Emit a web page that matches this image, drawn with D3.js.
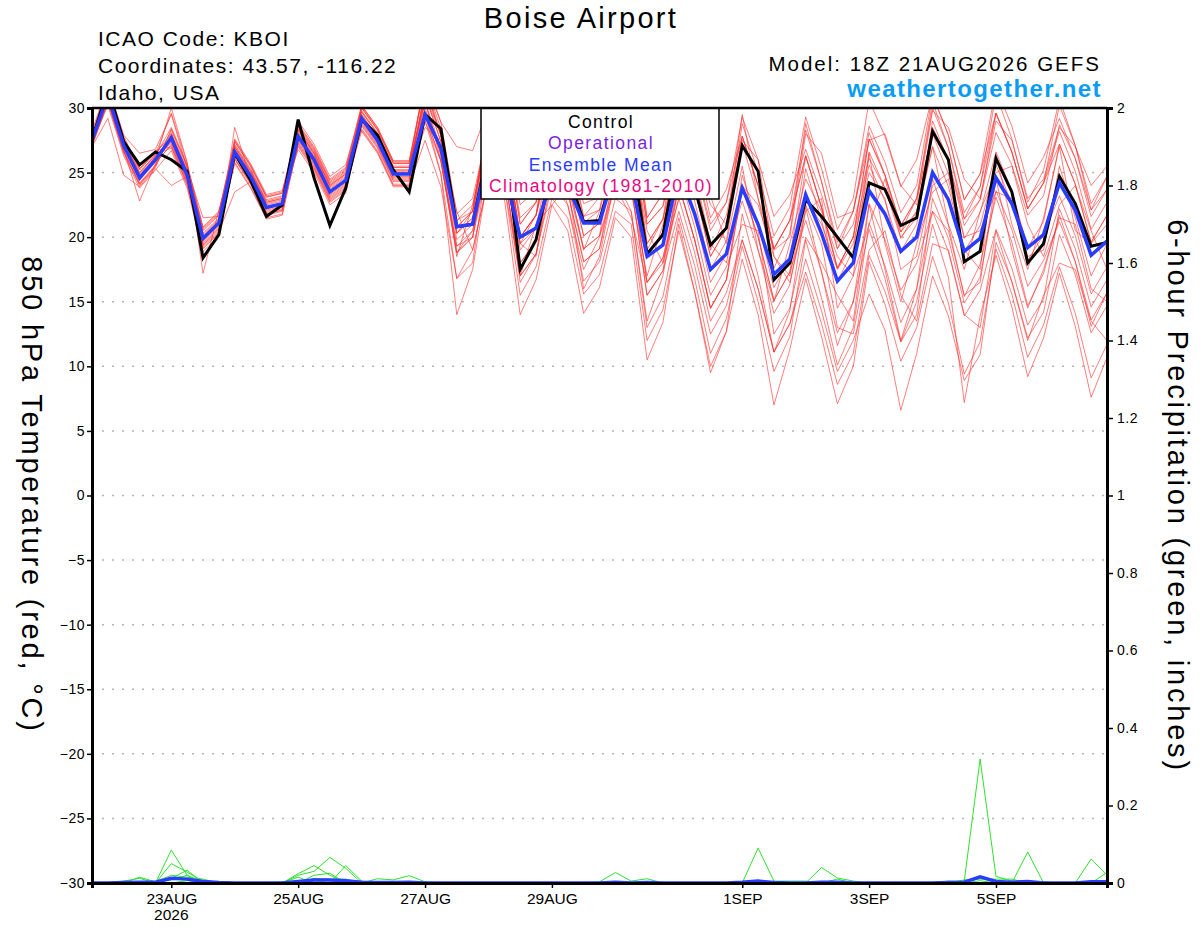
<!DOCTYPE html>
<html>
<head>
<meta charset="utf-8">
<title>Boise Airport</title>
<script src="https://cdnjs.cloudflare.com/ajax/libs/d3/7.8.5/d3.min.js"></script>
<style>
  body { margin: 0; background: #fff; }
  svg { display: block; font-family: "Liberation Sans", Arial, Helvetica, sans-serif; }
</style>
</head>
<body>
<div id="chart"></div>
<script>

// 6-hourly steps from 18Z 21AUG2026, 65 points (16 days)
var startTime = Date.UTC(2026, 7, 21, 18),
    stepHours = 6;

var controlTemp = [27.5, 31.5,27.4,25.6,26.6, 26.0,25.1,18.4,20.2, 26.5,24.4,21.6,22.5, 29.1,24.6,20.9,23.8, 29.1,27.9,25.2,23.5, 29.5,28.4,20.8,21.0, 27.0,27.5,17.5,19.8, 25.5,25.0,21.2,21.3, 25.5,26.5,18.7,20.2, 26.6,23.8,19.4,20.7, 27.1,25.1,16.7,18.0, 22.9,21.6,20.0,18.4, 24.2,23.7,20.9,21.5, 28.2,26.0,18.1,18.9, 26.1,23.5,18.0,19.5, 24.7,22.6,19.3,19.6];

var meanTemp = [27.5, 31.0,27.1,24.6,26.0, 27.7,24.8,19.9,21.1, 26.6,24.7,22.3,22.6, 27.8,26.0,23.5,24.4, 29.2,27.5,24.9,24.9, 29.5,26.9,20.8,21.0, 26.5,25.0,20.0,20.7, 24.5,24.0,21.1,21.1, 25.3,24.4,18.5,19.4, 25.1,21.8,17.5,18.7, 23.8,21.0,17.1,18.3, 23.3,20.3,16.6,18.0, 23.6,21.8,18.9,20.0, 25.0,22.9,18.9,19.9, 24.6,22.6,19.2,20.2, 24.2,22.1,18.6,19.7];

var memberTemp = [
  [27.8, 31.5,27.6,25.3,26.5, 28.0,25.1,20.2,21.4, 27.1,25.2,22.8,23.1, 28.6,26.8,24.3,25.2, 29.7,28.0,25.4,25.4, 31.0,27.9,21.3,22.0, 29.0,29.0,21.5,22.7, 28.0,27.5,22.6,23.1, 29.0,29.0,21.0,22.4, 27.0,26.5,22.5,21.0, 29.5,23.0,19.0,20.0, 28.0,26.5,21.5,22.0, 27.5,28.0,24.0,22.5, 29.8,28.5,24.5,23.0, 29.0,27.5,23.0,24.5, 28.5,27.0,24.0,25.5],
  [27.2, 30.7,26.8,22.8,25.7, 27.2,24.3,19.4,20.6, 25.8,23.9,21.5,21.8, 27.3,25.5,23.0,23.9, 28.2,26.5,23.9,23.9, 29.0,24.9,14.0,17.5, 25.0,24.0,15.5,17.7, 23.0,21.5,15.6,17.1, 22.0,21.0,12.0,14.4, 20.5,15.8,10.0,12.7, 18.3,14.0,7.0,11.3, 16.8,12.3,7.1,10.0, 18.1,14.8,10.4,13.0, 18.5,14.9,9.4,11.9, 19.1,15.6,10.7,13.2, 17.7,14.1,9.1,11.7],
  [27.9, 30.8,27.5,24.4,26.3, 28.5,25.6,20.7,21.9, 27.6,25.7,23.3,23.6, 28.3,26.5,24.0,24.9, 29.5,27.8,25.2,25.2, 32.5,28.9,21.8,23.0, 28.5,28.0,20.0,21.7, 26.5,25.5,20.1,21.1, 27.5,27.0,18.5,20.4, 28.0,23.8,18.5,20.7, 27.8,24.0,19.1,21.3, 26.3,22.3,17.6,20.0, 27.6,24.8,20.9,23.0, 30.0,26.9,21.9,23.9, 29.6,26.6,22.2,24.2, 28.2,25.1,20.6,22.7],
  [27.0, 30.5,26.6,24.1,25.5, 27.9,25.0,20.1,21.3, 26.3,24.4,22.0,22.3, 27.0,25.2,22.7,23.6, 29.7,28.0,25.4,25.4, 29.5,25.9,18.8,20.0, 25.5,25.0,17.0,18.7, 25.5,24.5,19.1,20.1, 24.5,24.0,15.5,17.4, 22.0,17.8,12.5,14.7, 19.8,16.0,11.1,13.3, 18.3,14.3,9.6,12.0, 15.6,12.8,6.6,11.0, 17.0,13.9,8.9,10.9, 19.6,16.6,12.2,14.2, 20.2,17.1,12.6,14.7],
  [28.2, 31.8,27.9,26.5,26.8, 29.5,25.3,21.5,21.6, 27.2,25.3,22.9,23.2, 28.8,27.0,24.5,25.4, 30.2,28.5,25.9,25.9, 32.0,27.9,20.3,22.0, 29.0,28.0,19.5,21.7, 29.0,27.5,21.6,23.1, 29.0,28.0,19.0,21.4, 29.5,24.8,19.0,21.7, 27.3,23.0,17.6,20.3, 28.8,24.3,19.1,22.0, 28.1,24.8,20.4,23.0, 30.5,26.9,21.4,23.9, 31.1,27.6,22.7,25.2, 30.7,27.1,22.1,24.7],
  [27.3, 30.2,26.3,23.8,25.2, 26.7,23.8,18.9,20.1, 26.1,24.2,21.8,22.1, 28.1,26.3,23.8,24.7, 28.7,27.0,24.4,24.4, 29.0,25.9,19.3,20.0, 27.0,27.0,19.5,20.7, 27.0,26.5,21.6,22.1, 24.0,27.5,20.5,18.0, 23.0,23.5,23.2,19.5, 25.5,19.0,15.0,19.5, 24.5,22.0,18.5,17.0, 21.0,24.5,20.0,21.5, 27.0,21.0,17.5,22.0, 25.0,25.5,21.0,18.5, 22.5,24.0,20.5,17.5],
  [27.6, 31.3,27.4,24.9,26.3, 27.5,24.6,19.7,20.9, 27.4,25.5,23.1,23.4, 28.0,26.2,23.7,24.6, 30.0,28.3,25.7,25.7, 30.5,26.0,18.5,22.5, 28.5,24.0,17.0,21.0, 22.5,24.0,16.0,18.5, 24.5,22.0,13.5,17.0, 24.0,19.8,14.5,16.7, 23.8,20.0,15.1,17.3, 25.3,21.3,16.6,19.0, 26.6,23.8,19.9,22.0, 27.0,23.9,18.9,20.9, 25.6,22.6,18.2,20.2, 23.2,20.1,15.6,17.7],
  [27.5, 31.0,27.1,24.6,26.0, 30.0,25.8,17.2,22.1, 26.1,24.2,21.8,22.1, 28.5,26.7,24.2,25.1, 28.9,27.2,24.6,24.6, 29.5,24.9,16.8,19.0, 24.5,23.0,14.0,16.7, 22.5,20.5,14.1,16.1, 21.5,20.0,10.5,13.4, 21.0,15.8,9.5,12.7, 21.8,17.0,11.1,14.3, 22.3,17.3,11.6,15.0, 20.6,16.8,11.9,15.0, 21.0,16.9,7.2,13.9, 18.6,14.6,9.2,12.2, 17.2,13.1,7.6,10.7],
  [27.3, 30.8,26.9,24.4,25.8, 27.1,24.2,19.3,20.5, 26.9,25.0,22.6,22.9, 27.5,25.7,23.2,24.1, 29.4,27.7,25.1,25.1, 31.5,27.9,20.8,22.0, 29.5,29.0,21.0,22.7, 29.5,28.5,23.1,24.1, 28.5,28.0,19.5,21.4, 27.0,22.8,17.5,19.7, 27.5,26.0,18.5,16.5, 22.0,23.0,14.5,17.0, 26.5,19.5,15.0,19.5, 23.5,24.5,19.0,17.5, 26.5,21.0,17.5,21.5, 27.0,20.5,19.5,21.0],
  [27.9, 31.6,27.7,25.2,26.6, 27.7,24.8,19.9,21.1, 26.8,24.9,22.5,22.8, 27.2,25.4,22.9,23.8, 30.0,28.3,25.7,25.7, 32.0,28.4,21.3,22.5, 27.5,27.0,19.0,20.7, 25.5,24.5,19.1,20.1, 27.5,27.0,18.5,20.4, 28.0,23.8,18.5,20.7, 28.8,25.0,20.1,22.3, 29.3,25.3,20.6,23.0, 30.6,27.8,23.9,26.0, 31.0,27.9,22.9,24.9, 29.6,26.6,22.2,24.2, 30.2,27.1,22.6,24.7],
  [27.1, 30.5,26.6,24.1,25.5, 28.4,25.5,20.6,21.8, 27.4,25.5,23.1,23.4, 28.2,26.4,23.9,24.8, 28.4,26.7,24.1,24.1, 29.5,25.9,18.8,20.0, 26.5,26.0,18.0,19.7, 26.5,25.5,20.1,21.1, 25.5,25.0,16.5,18.4, 23.0,18.8,13.5,15.7, 19.8,16.0,11.1,13.3, 17.3,13.3,8.6,11.0, 18.6,15.8,11.9,14.0, 23.0,19.9,14.9,16.9, 23.6,20.6,16.2,18.2, 21.2,18.1,13.6,15.7],
  [27.7, 31.4,27.5,25.0,26.4, 26.9,24.0,19.1,20.3, 28.5,24.5,22.1,22.4, 29.0,27.2,24.7,25.6, 29.8,28.1,25.5,25.5, 30.5,26.9,19.8,21.0, 28.5,28.0,20.0,21.7, 27.5,26.5,21.1,22.1, 28.5,28.0,19.5,21.4, 26.0,21.8,16.5,18.7, 22.8,19.0,14.1,16.3, 22.5,19.5,13.0,12.5, 19.0,20.5,15.5,13.5, 19.5,19.0,14.0,13.0, 20.5,16.5,12.0,15.5, 18.0,17.5,13.5,12.0],
  [27.2, 30.4,26.5,24.0,25.4, 28.1,25.2,20.3,21.5, 26.0,24.1,21.7,22.0, 27.8,26.0,23.5,24.4, 29.5,27.8,25.2,25.2, 31.0,27.4,20.3,21.5, 29.5,29.0,21.0,22.7, 30.5,29.5,24.1,25.1, 30.5,30.0,21.5,23.4, 30.0,25.8,20.5,22.7, 27.8,24.0,19.1,21.3, 26.3,22.3,17.6,20.0, 27.6,24.8,20.9,23.0, 28.0,24.9,19.9,21.9, 26.6,23.6,19.2,21.2, 27.2,24.1,19.6,21.7],
  [27.6, 31.2,27.3,24.8,26.2, 27.4,24.5,19.6,20.8, 27.0,25.1,22.7,23.0, 26.8,25.0,22.5,23.4, 29.0,27.3,24.7,24.7, 28.5,27.5,22.0,19.0, 24.5,27.5,19.5,18.5, 26.0,22.5,17.5,20.0, 24.0,21.5,16.5,18.0, 24.0,19.8,14.5,16.7, 24.8,21.0,16.1,18.3, 26.3,22.3,17.6,20.0, 25.6,22.8,18.9,21.0, 29.0,25.9,20.9,22.9, 29.6,26.6,22.2,24.2, 27.2,24.1,19.6,21.7],
  [27.4, 30.6,26.7,24.2,25.6, 28.3,25.4,20.5,21.7, 26.6,24.7,22.3,22.6, 28.4,26.6,24.1,25.0, 30.2,28.5,25.9,25.9, 32.0,28.9,27.0,26.7, 30.0,30.0,22.5,23.7, 29.0,28.5,23.6,24.1, 29.0,29.0,21.0,22.4, 29.5,25.8,21.0,22.7, 29.3,26.0,21.6,23.3, 26.8,23.3,19.1,21.0, 26.1,23.8,20.4,22.0, 28.5,25.9,21.4,22.9, 28.1,25.6,21.7,23.2, 28.7,26.1,22.1,23.7],
  [28.0, 31.7,27.8,25.3,26.7, 27.0,24.1,19.2,20.4, 23.5,24.3,21.9,22.2, 27.6,25.8,23.3,24.2, 28.6,26.9,24.3,24.3, 30.5,26.4,18.8,20.5, 26.0,25.0,16.5,18.7, 24.0,22.5,16.6,18.1, 23.0,22.0,13.0,15.4, 21.5,16.8,11.0,13.7, 19.3,15.0,9.6,12.3, 19.8,15.3,10.1,13.0, 21.1,17.8,13.4,16.0, 24.5,20.9,15.4,17.9, 23.1,19.6,14.7,17.2, 21.7,18.1,13.1,15.7],
  [27.4, 30.9,27.0,24.5,25.9, 27.8,24.9,20.0,21.2, 27.5,25.6,23.2,23.5, 28.7,26.9,24.4,25.3, 29.3,27.6,25.0,25.0, 31.0,27.4,20.3,21.5, 28.5,28.0,20.0,21.7, 27.5,24.0,19.0,22.0, 27.0,23.5,17.0,21.0, 26.0,25.0,19.5,18.0, 24.0,22.5,18.5,17.0, 23.0,21.0,17.5,19.5, 25.0,23.0,17.5,18.5, 24.0,25.0,20.0,20.5, 23.5,23.0,18.5,19.0, 25.5,21.5,17.0,19.5],
  [27.6, 31.1,27.2,24.7,26.1, 27.3,24.4,19.5,20.7, 25.7,23.8,21.4,21.7, 27.4,25.6,23.1,24.0, 30.1,28.4,25.8,25.8, 30.0,26.4,19.3,20.5, 25.5,25.0,17.0,18.7, 24.5,23.5,18.1,19.1, 25.5,25.0,16.5,18.4, 24.0,19.8,14.5,16.7, 23.8,20.0,15.1,17.3, 21.3,17.3,12.6,15.0, 22.6,19.8,15.9,18.0, 22.0,18.9,13.9,15.9, 20.6,17.6,13.2,15.2, 22.2,19.1,14.6,16.7],
  [27.8, 31.4,27.5,25.0,26.4, 29.6,25.7,20.8,22.0, 27.0,25.1,22.7,23.0, 27.1,25.3,22.8,23.7, 28.8,27.1,24.5,24.5, 31.5,27.9,20.8,22.0, 28.5,28.0,20.0,21.7, 29.5,28.5,23.1,24.1, 30.5,30.0,21.5,23.4, 31.0,26.8,21.5,23.7, 27.8,24.0,19.1,21.3, 28.3,24.3,19.6,22.0, 28.6,25.8,21.9,24.0, 31.0,27.9,22.9,24.9, 31.6,28.6,24.2,26.2, 29.2,26.1,21.6,23.7],
  [27.0, 29.2,24.8,23.9,25.3, 24.0,24.7,19.8,21.0, 26.5,24.6,22.2,22.5, 28.3,26.5,24.0,24.9, 28.3,26.6,24.0,24.0, 27.5,23.9,16.8,18.0, 26.5,26.0,18.0,19.7, 24.5,23.5,18.1,19.1, 24.5,24.0,15.5,17.4, 25.0,20.8,15.5,17.7, 21.0,20.5,12.5,14.5, 20.0,18.0,15.5,13.5, 22.5,17.5,12.0,16.0, 22.0,20.5,15.5,16.5, 24.5,19.0,14.5,17.5, 21.5,21.0,16.0,15.0]
];

var memberPrecip = [
  [0, 0,0,0,0, .085,.02,0,0, 0,0,0,0, 0,0,0,0, 0,0,0,0, 0,0,0,0, 0,0,0,0, 0,0,0,0, 0,0,0,0, 0,0,0,0, 0,0,0,0, 0,0,0,0, 0,0,0,0, 0,0,0,0, 0,0,0,0, 0,0,0,.027],
  [0, 0,0,0,0, .05,.028,.005,0, 0,0,0,0, 0,0,0,0, 0,0,0,0, 0,0,0,0, 0,0,0,0, 0,0,0,0, 0,0,0,0, 0,0,0,0, 0,0,0,0, 0,0,0,0, 0,0,0,0, 0,0,0,0, 0,0,0,0, 0,0,0,0],
  [0, 0,0,.015,.003, .02,.015,.01,0, 0,0,0,0, 0,0,0,0, 0,0,0,0, 0,0,0,0, 0,0,0,0, 0,0,0,0, 0,0,0,0, 0,0,0,0, 0,0,0,0, 0,0,0,0, 0,0,0,0, 0,0,0,0, 0,0,0,0, 0,0,0,0],
  [0, 0,.005,.012,0, .012,.033,0,0, 0,0,0,0, 0,0,0,0, 0,0,0,0, 0,0,0,0, 0,0,0,0, 0,0,0,0, 0,0,0,0, 0,0,0,0, 0,0,0,0, 0,0,0,0, 0,0,0,0, 0,0,0,0, 0,0,0,0, 0,0,0,0],
  [0, 0,0,0,0, .008,.02,0,0, 0,0,0,0, 0,.02,.025,0, 0,0,0,0, 0,0,0,0, 0,0,0,0, 0,0,0,0, 0,0,0,0, 0,0,0,0, 0,0,0,0, 0,0,0,0, 0,0,0,0, 0,0,0,0, 0,0,0,0, 0,0,0,0],
  [0, 0,0,0,0, 0,0,0,0, 0,0,0,0, .024,.045,.02,0, 0,0,0,0, 0,0,0,0, 0,0,0,0, 0,0,0,0, 0,0,0,0, 0,0,0,0, 0,0,0,0, 0,0,0,0, 0,0,0,0, 0,0,0,0, 0,0,0,0, 0,0,0,0],
  [0, 0,0,0,0, 0,0,0,0, 0,0,0,0, .02,.03,.066,.038, 0,0,0,0, 0,0,0,0, 0,0,0,0, 0,0,0,0, 0,0,0,0, 0,0,0,0, 0,0,0,0, 0,0,0,0, 0,0,0,0, 0,0,0,0, 0,0,0,0, 0,0,0,0],
  [0, 0,0,0,0, 0,0,0,0, 0,0,0,0, .015,0,0,.045, .005,0,0,0, 0,0,0,0, 0,0,0,0, 0,0,0,0, 0,0,0,0, 0,0,0,0, 0,0,0,0, 0,0,0,0, 0,0,0,0, 0,0,0,0, 0,0,0,0, 0,0,0,0],
  [0, 0,0,0,0, 0,0,0,0, 0,0,0,0, 0,.012,.01,.01, 0,.011,.008,.019, .003,0,0,0, 0,0,0,0, 0,0,0,0, 0,0,0,0, 0,0,0,0, 0,0,0,0, 0,0,0,0, 0,0,0,0, 0,0,0,0, 0,0,0,0, 0,0,0,0],
  [0, 0,0,0,0, 0,0,0,0, 0,0,0,0, 0,0,0,0, 0,0,0,0, 0,0,0,0, 0,0,0,0, 0,0,0,.003, .027,.005,.011,0, 0,0,0,0, 0,0,0,0, 0,0,0,0, 0,0,0,0, 0,0,0,0, 0,0,0,0, 0,0,0,0],
  [0, 0,0,0,0, 0,0,0,0, 0,0,0,0, 0,0,0,0, 0,0,0,0, 0,0,0,0, 0,0,0,0, 0,0,0,0, 0,0,0,0, 0,0,0,0, 0,.09,.005,.005, .005,0,0,0, 0,0,0,0, 0,0,0,0, 0,0,0,0, 0,0,0,0],
  [0, 0,0,0,0, 0,0,0,0, 0,0,0,0, 0,0,0,0, 0,0,0,0, 0,0,0,0, 0,0,0,0, 0,0,0,0, 0,0,0,0, 0,0,0,0, 0,0,0,0, 0,.04,.013,.005, 0,0,0,0, 0,0,0,0, 0,0,0,0, 0,0,0,0],
  [0, 0,0,0,0, 0,0,0,0, 0,0,0,0, 0,0,0,0, 0,0,0,0, 0,0,0,0, 0,0,0,0, 0,0,0,0, 0,0,0,0, 0,0,0,0, 0,0,0,0, 0,0,.01,0, 0,0,0,0, 0,0,.008,.01, .01,.01,0,0, 0,0,0,0],
  [0, 0,0,0,0, 0,0,0,0, 0,0,0,0, 0,0,0,0, 0,0,0,0, 0,0,0,0, 0,0,0,0, 0,0,0,0, 0,0,0,0, 0,0,0,0, 0,0,0,0, 0,0,0,0, 0,0,0,0, 0,.005,.005,.32, .017,.005,0,0, 0,0,0,0],
  [0, 0,0,0,0, 0,0,0,0, 0,0,0,0, 0,0,0,0, 0,0,0,0, 0,0,0,0, 0,0,0,0, 0,0,0,0, 0,0,0,0, 0,0,0,0, 0,0,0,0, 0,0,0,0, 0,0,0,0, 0,0,0,0, 0,0,.08,0, 0,0,0,0],
  [0, 0,0,0,0, 0,0,0,0, 0,0,0,0, 0,0,0,0, 0,0,0,0, 0,0,0,0, 0,0,0,0, 0,0,0,0, 0,0,0,0, 0,0,0,0, 0,0,0,0, 0,0,0,0, 0,0,0,0, 0,0,0,0, 0,0,0,0, 0,0,.062,.02],
  [0, 0,0,0,0, 0,0,0,0, 0,0,0,.003, 0,0,.008,0, 0,0,0,0, 0,0,0,0, 0,0,0,0, 0,0,0,0, 0,0,0,0, 0,0,0,0, 0,0,0,0, 0,0,0,0, 0,0,0,0, 0,0,0,.006, 0,0,0,0, 0,0,0,0],
  [0, 0,0,0,0, 0,0,0,0, 0,0,0,0, 0,0,0,0, 0,0,0,0, 0,0,0,0, 0,0,0,0, 0,0,0,0, 0,0,0,0, 0,0,0,0, .004,.006,0,0, 0,0,0,0, 0,0,0,0, 0,0,0,0, 0,0,0,0, 0,0,0,0],
  [0, 0,0,0,0, 0,.006,0,0, 0,0,0,0, 0,0,0,0, 0,0,0,0, 0,0,0,0, 0,0,0,0, 0,0,0,0, 0,0,0,0, 0,0,0,0, 0,0,0,0, 0,0,0,0, 0,0,0,0, 0,0,0,0, 0,0,0,0, 0,0,0,0],
  [0, 0,0,0,0, 0,0,0,0, 0,0,0,0, 0,.006,0,0, 0,0,0,0, 0,0,0,0, 0,0,0,0, 0,0,0,0, 0,0,0,0, 0,0,0,0, 0,0,0,0, 0,0,0,0, 0,0,0,0, 0,0,0,0, 0,0,0,.003, 0,0,0,0]
];

var meanPrecip = [0, 0,.001,.002,.002, .012,.01,.004,.001, 0,0,0,0, .004,.008,.008,.006, .002,.001,.001,.002, 0,0,0,0, 0,0,0,0, 0,0,0,0, .002,0,.001,0, 0,0,0,0, .002,.005,.001,0, 0,.002,.002,0, 0,0,0,0, 0,.001,.002,.016, .004,.002,.004,0, 0,0,.003,.003];

var tempTicks = [-30, -25, -20, -15, -10, -5, 0, 5, 10, 15, 20, 25, 30];
var precipTicks = [0, 0.2, 0.4, 0.6, 0.8, 1, 1.2, 1.4, 1.6, 1.8, 2];
var dateTicks = [Date.UTC(2026,7,23), Date.UTC(2026,7,25), Date.UTC(2026,7,27), Date.UTC(2026,7,29), Date.UTC(2026,8,1), Date.UTC(2026,8,3), Date.UTC(2026,8,5)];
var dateLabels = ["23AUG", "25AUG", "27AUG", "29AUG", "1SEP", "3SEP", "5SEP"];

var legendNames = ["Control", "Operational", "Ensemble Mean", "Climatology (1981-2010)"];
var legendColors = ["#000000", "#7a1fe0", "#2a3cff", "#e8087f"];

var headerLeft = ["ICAO Code: KBOI", "Coordinates: 43.57, -116.22", "Idaho, USA"];

var W = 1200, H = 927,
    pLeft = 92, pRight = 1107, pTop = 108, pBottom = 883;

var times = controlTemp.map(function(d, i) { return new Date(startTime + i * stepHours * 3600000); });

var x = d3.scaleTime().domain([times[0], times[times.length - 1]]).range([pLeft, pRight]);
var yT = d3.scaleLinear().domain([-30, 30]).range([pBottom, pTop]);
var yP = d3.scaleLinear().domain([0, 2]).range([pBottom, pTop]);

var svg = d3.select("#chart").append("svg").attr("width", W).attr("height", H);
svg.append("rect").attr("width", W).attr("height", H).attr("fill", "#fff");

svg.append("clipPath").attr("id", "plotclip")
    .append("rect").attr("x", pLeft).attr("y", pTop).attr("width", pRight - pLeft).attr("height", pBottom - pTop);

// dotted grid
svg.append("g").selectAll("line")
    .data(tempTicks.filter(function(t) { return t > -30 && t < 30; }))
    .enter().append("line")
    .attr("x1", pLeft).attr("x2", pRight)
    .attr("y1", function(d) { return yT(d); }).attr("y2", function(d) { return yT(d); })
    .attr("stroke", "#b4b4b4").attr("stroke-width", 1.5).attr("stroke-dasharray", "2,8");

var plot = svg.append("g").attr("clip-path", "url(#plotclip)");

var tempLine = d3.line().x(function(d, i) { return x(times[i]); }).y(function(d) { return yT(d); });
var precipLine = d3.line().x(function(d, i) { return x(times[i]); }).y(function(d) { return yP(d); });

plot.selectAll(".member").data(memberTemp).enter().append("path")
    .attr("class", "member").attr("d", tempLine)
    .attr("fill", "none").attr("stroke", "#ff3030").attr("stroke-opacity", 0.62).attr("stroke-width", 1);

plot.selectAll(".pmember").data(memberPrecip).enter().append("path")
    .attr("class", "pmember").attr("d", precipLine)
    .attr("fill", "none").attr("stroke", "#2fe02f").attr("stroke-width", 1);

plot.append("path").datum(controlTemp).attr("d", tempLine)
    .attr("fill", "none").attr("stroke", "#000").attr("stroke-width", 3);

plot.append("path").datum(meanTemp).attr("d", tempLine)
    .attr("fill", "none").attr("stroke", "#2a3cff").attr("stroke-width", 3.5);

plot.append("path").datum(meanPrecip).attr("d", precipLine)
    .attr("fill", "none").attr("stroke", "#2a3cff").attr("stroke-width", 3.5);

// legend box
var lg = svg.append("g");
lg.append("rect").attr("x", 481).attr("y", pTop).attr("width", 238).attr("height", 91)
    .attr("fill", "#fff").attr("stroke", "#000").attr("stroke-width", 1.5);
lg.selectAll("text").data(legendNames).enter().append("text")
    .attr("x", 601).attr("y", function(d, i) { return 127.5 + i * 21.5; })
    .attr("text-anchor", "middle").attr("font-size", "17.5px").attr("letter-spacing", "1.4px")
    .attr("fill", function(d, i) { return legendColors[i]; })
    .text(function(d) { return d; });

// axes
var axL = svg.append("g").attr("transform", "translate(" + pLeft + ",0)")
    .call(d3.axisLeft(yT).tickValues(tempTicks).tickSize(5).tickPadding(2).tickFormat(d3.format("d")));
var axR = svg.append("g").attr("transform", "translate(" + pRight + ",0)")
    .call(d3.axisRight(yP).tickValues(precipTicks).tickSize(6).tickPadding(4).tickFormat(function(d) { return String(d); }));
var axB = svg.append("g").attr("transform", "translate(0," + pBottom + ")")
    .call(d3.axisBottom(x).tickValues(dateTicks.map(function(d) { return new Date(d); }))
        .tickSize(5).tickPadding(5).tickFormat(function(d, i) { return dateLabels[i]; }));

[axL, axR, axB].forEach(function(a) {
    a.selectAll("text").attr("font-family", "Liberation Sans, Arial, sans-serif").attr("fill", "#000");
    a.selectAll(".tick line").attr("stroke", "#000").attr("stroke-width", 1.5);
    a.select(".domain").attr("stroke", "#000").attr("stroke-width", 3);
});
axL.selectAll("text").attr("font-size", "14px").attr("letter-spacing", "0.5px");
axR.selectAll("text").attr("font-size", "14px").attr("letter-spacing", "0.5px");
axB.selectAll("text").attr("font-size", "15.5px");

svg.append("line").attr("x1", pLeft).attr("x2", pRight).attr("y1", pTop).attr("y2", pTop)
    .attr("stroke", "#000").attr("stroke-width", 2.5);

svg.append("text").attr("x", x(new Date(dateTicks[0]))).attr("y", 920)
    .attr("text-anchor", "middle").attr("font-size", "15.5px").text("2026");

// titles
svg.append("text").attr("x", 581).attr("y", 28).attr("text-anchor", "middle")
    .attr("font-size", "29px").attr("letter-spacing", "2.3px").text("Boise Airport");

svg.selectAll(".hdr").data(headerLeft).enter().append("text").attr("class", "hdr")
    .attr("x", 98).attr("y", function(d, i) { return 46 + i * 27; })
    .attr("font-size", "21px").attr("letter-spacing", "1.5px").text(function(d) { return d; });

svg.append("text").attr("x", 1101).attr("y", 71).attr("text-anchor", "end")
    .attr("font-size", "20.5px").attr("letter-spacing", "2px").text("Model: 18Z 21AUG2026 GEFS");
svg.append("text").attr("x", 1102).attr("y", 97).attr("text-anchor", "end")
    .attr("font-size", "24px").attr("font-weight", "bold").attr("letter-spacing", "1.4px")
    .attr("fill", "#0a9cf5").text("weathertogether.net");

svg.append("text").attr("transform", "translate(22,495) rotate(90)").attr("text-anchor", "middle")
    .attr("font-size", "29px").attr("letter-spacing", "2.8px").text("850 hPa Temperature (red, \u00B0C)");
svg.append("text").attr("transform", "translate(1168,496) rotate(90)").attr("text-anchor", "middle")
    .attr("font-size", "29px").attr("letter-spacing", "2.8px").text("6-hour Precipitation (green, inches)");

</script>
</body>
</html>
